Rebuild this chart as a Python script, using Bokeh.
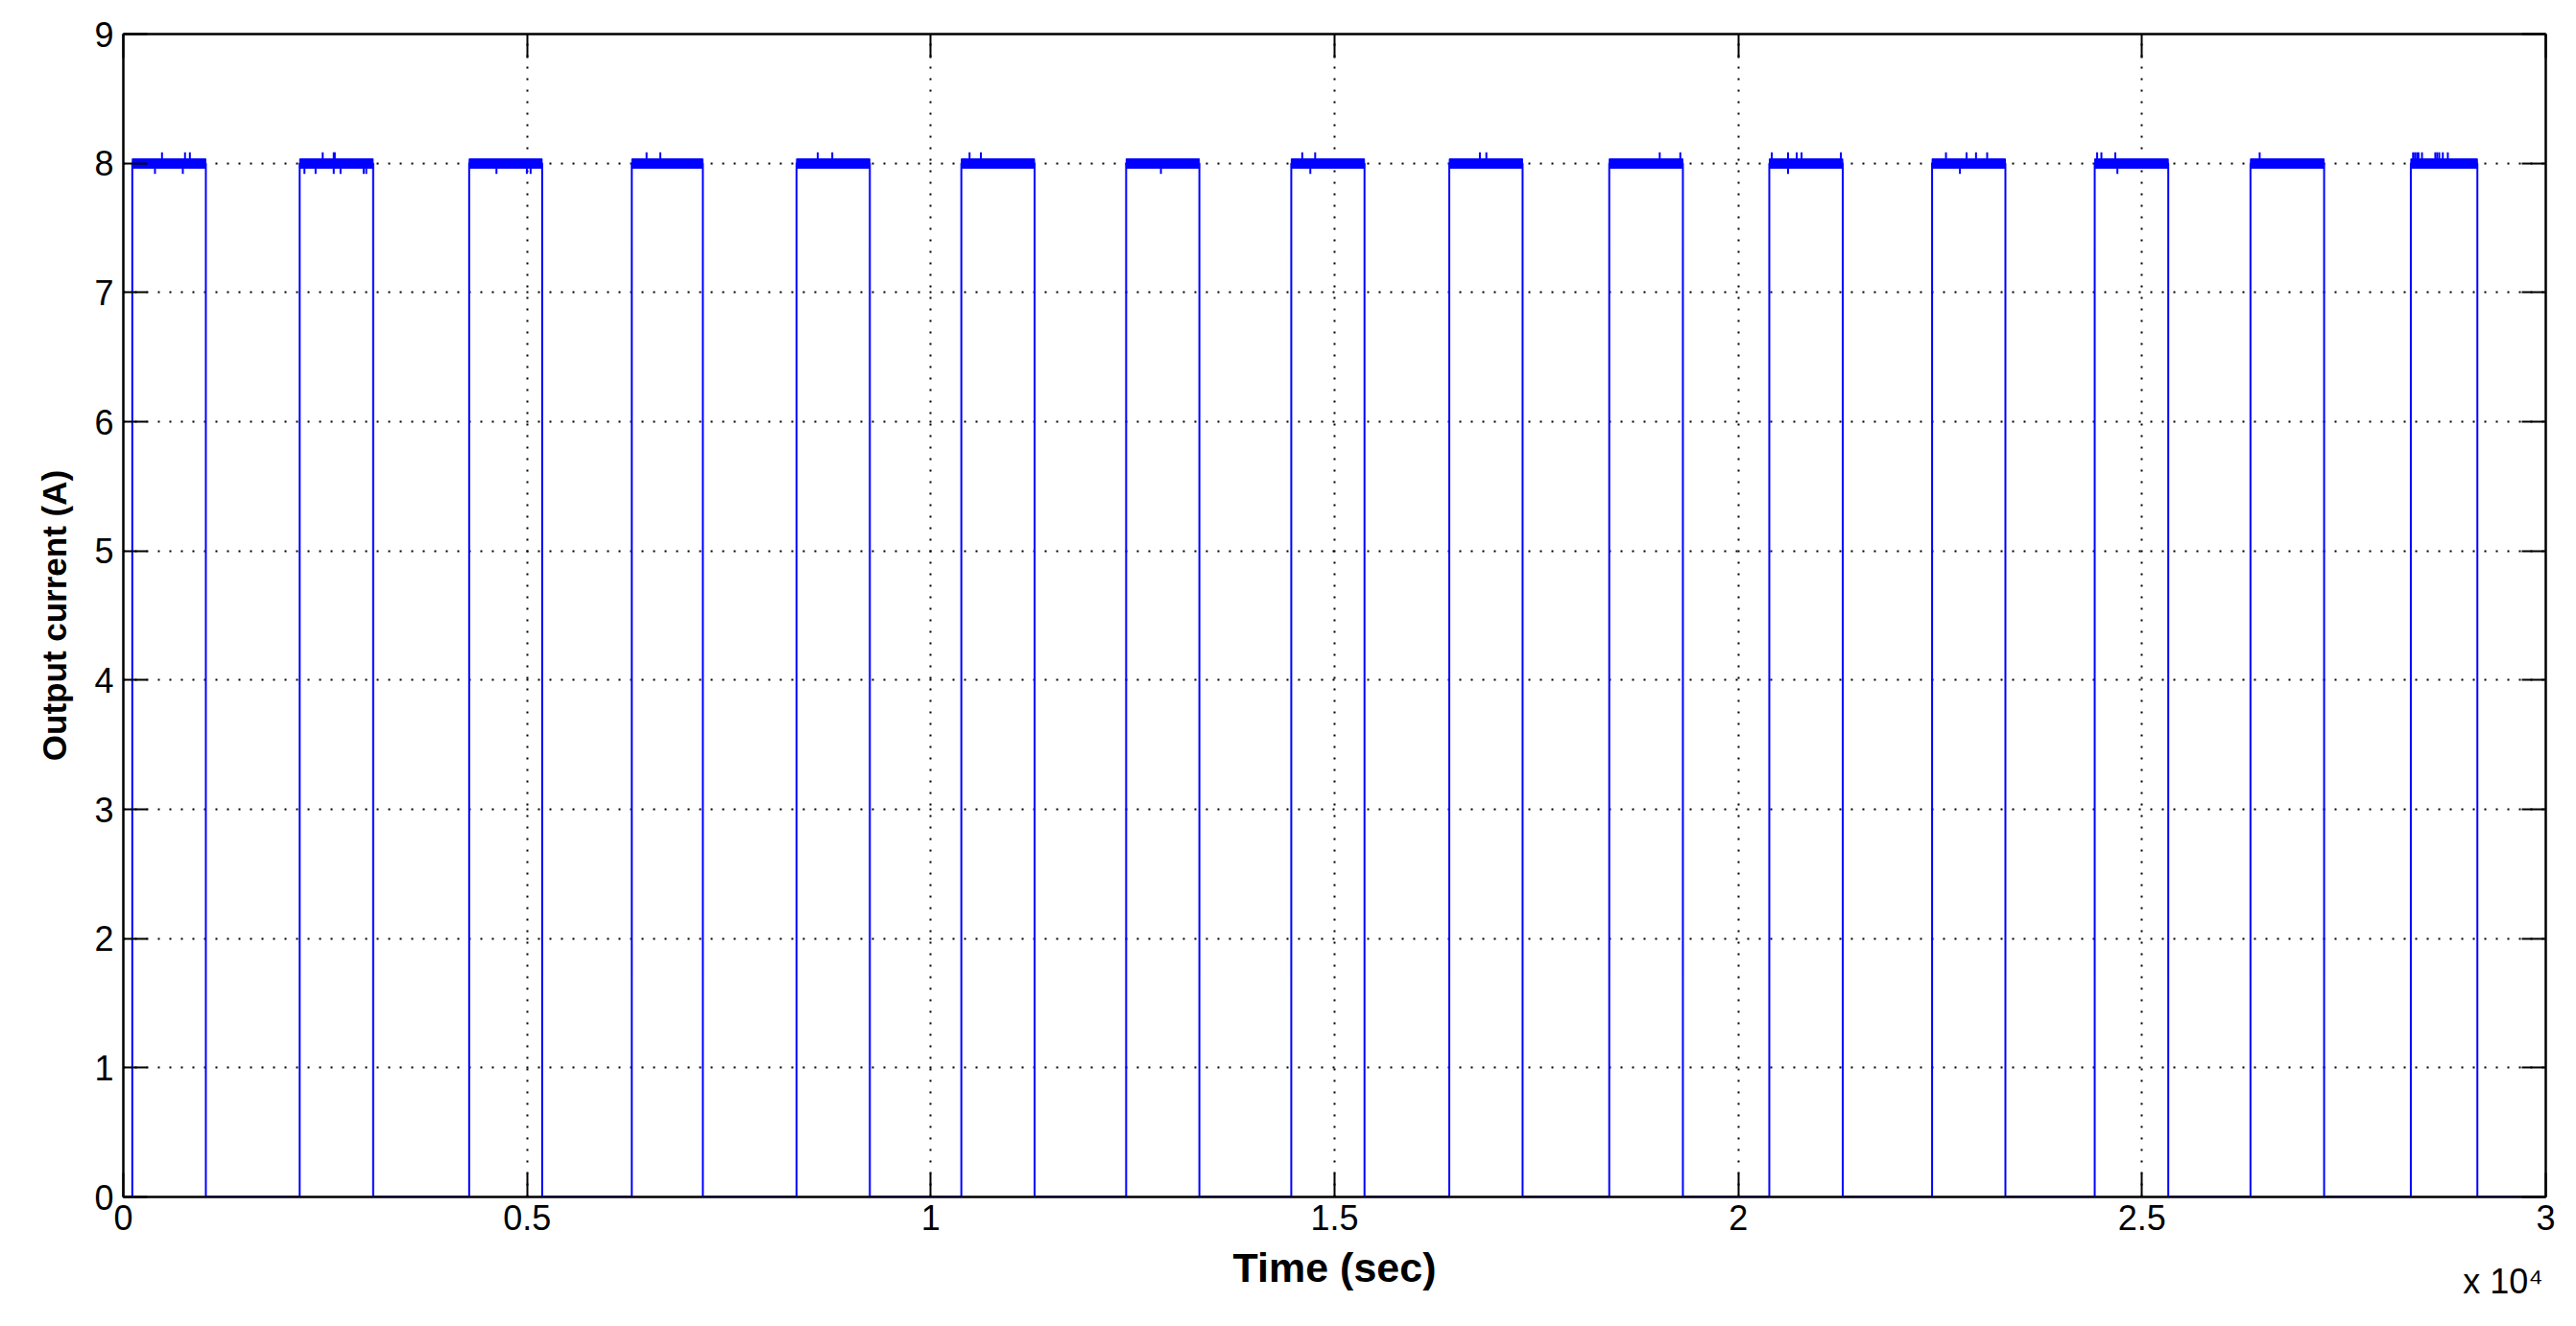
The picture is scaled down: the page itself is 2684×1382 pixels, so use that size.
import numpy as np
from bokeh.plotting import figure
from bokeh.models import Range1d, FixedTicker, LinearAxis
from bokeh.embed import file_html
from bokeh.resources import INLINE

# ---- data (time in seconds, current in A) ----
pulse_start = [111, 2184, 4283, 6297, 8337, 10378, 12419, 14464, 16421, 18402,
               20384, 22400, 24414, 26343, 28329]
pulse_end = [1022, 3094, 5187, 7177, 9245, 11285, 13326, 15371, 17329, 19314,
             21294, 23308, 25325, 27255, 29153]
level_low = 0.0
level_high = 8.0
band_low = 7.962
band_high = 8.034
spike_up_t = [479, 764, 824, 2469, 2606, 2619, 6480, 6650, 8600, 8780,
              10480, 10620, 14600, 14760, 16800, 16880, 19027, 19282,
              20415, 20616, 20724, 20784, 21271, 22572, 22827, 22944, 23082,
              24444, 24497, 24669, 26457, 28357, 28380, 28405, 28424, 28467,
              28632, 28655, 28681, 28725, 28787]
spike_up_v = 8.085
spike_dn_t = [392, 737, 2243, 2381, 2606, 2690, 2976, 3008, 4621, 4997, 5044,
              12850, 14700, 20616, 22745, 24695]
spike_dn_v = 7.918
x_ticks = [0, 5000, 10000, 15000, 20000, 25000, 30000]
x_tick_labels = ["0", "0.5", "1", "1.5", "2", "2.5", "3"]
y_ticks = [0, 1, 2, 3, 4, 5, 6, 7, 8, 9]
x_label = "Time (sec)"
y_label = "Output current (A)"
exponent_label = "x 10\u2074"
exponent_anchor = 29470

# ---- build the step trace from the pulse edges ----
xs = [0.0]
ys = [level_low]
for s, e in zip(pulse_start, pulse_end):
    xs += [s, s, e, e]
    ys += [level_low, level_high, level_high, level_low]
xs.append(30000.0)
ys.append(level_low)

FONT = "Liberation Sans"
BLUE = "#0000FF"

p = figure(width=2668, height=1366, output_backend="svg", toolbar_location=None,
           x_range=Range1d(0, 30000), y_range=Range1d(0, 9),
           min_border_left=128, min_border_right=16, min_border_top=35,
           min_border_bottom=119)
p.background_fill_color = "white"
p.border_fill_color = "white"
p.outline_line_color = "black"
p.outline_line_width = 2

# trace
p.line(xs, ys, line_color=BLUE, line_width=2)
p.quad(left=pulse_start, right=pulse_end,
       bottom=[band_low] * len(pulse_start), top=[band_high] * len(pulse_start),
       fill_color=BLUE, line_color=BLUE, line_width=1)
p.segment(x0=spike_up_t, y0=[band_high] * len(spike_up_t), x1=spike_up_t,
          y1=[spike_up_v] * len(spike_up_t), line_color=BLUE, line_width=2)
p.segment(x0=spike_dn_t, y0=[band_low] * len(spike_dn_t), x1=spike_dn_t,
          y1=[spike_dn_v] * len(spike_dn_t), line_color=BLUE, line_width=2)

# axes
xt = FixedTicker(ticks=x_ticks)
yt = FixedTicker(ticks=y_ticks)
overrides = {t: l for t, l in zip(x_ticks, x_tick_labels)}

for ax in [p.xaxis[0], p.yaxis[0]]:
    ax.axis_line_color = "black"
    ax.axis_line_width = 2
    ax.major_tick_in = 25
    ax.major_tick_out = 0
    ax.major_tick_line_width = 2
    ax.minor_tick_in = 0
    ax.minor_tick_out = 0
    ax.major_label_text_font = FONT
    ax.major_label_text_font_size = "36px"
    ax.major_label_text_color = "black"
    ax.axis_label_text_font = FONT
    ax.axis_label_text_font_style = "bold"
    ax.axis_label_text_color = "black"

p.xaxis[0].ticker = xt
p.xaxis[0].major_label_overrides = overrides
p.xaxis[0].major_label_standoff = 8
p.xaxis[0].axis_label = x_label
p.xaxis[0].axis_label_text_font_size = "43px"
p.xaxis[0].axis_label_standoff = 12
p.yaxis[0].ticker = yt
p.yaxis[0].major_label_standoff = 10
p.yaxis[0].axis_label = y_label
p.yaxis[0].axis_label_text_font_size = "35px"
p.yaxis[0].axis_label_standoff = 19

# mirrored axes (box with inner ticks, no labels)
for loc, tk in [("above", xt), ("right", yt)]:
    ax = LinearAxis(ticker=tk)
    ax.axis_line_color = "black"
    ax.axis_line_width = 2
    ax.major_tick_in = 25
    ax.major_tick_out = 0
    ax.major_tick_line_width = 2
    ax.minor_tick_in = 0
    ax.minor_tick_out = 0
    ax.major_label_text_color = None
    ax.major_label_text_font_size = "0px"
    ax.major_label_standoff = 0
    p.add_layout(ax, loc)

# exponent (x 10^4) shown under the right end of the x axis
exp_axis = LinearAxis(ticker=FixedTicker(ticks=[exponent_anchor]),
                      major_label_overrides={exponent_anchor: exponent_label})
exp_axis.axis_line_color = None
exp_axis.major_tick_line_color = None
exp_axis.minor_tick_line_color = None
exp_axis.major_tick_in = 0
exp_axis.major_tick_out = 0
exp_axis.minor_tick_in = 0
exp_axis.minor_tick_out = 0
exp_axis.major_label_text_font = FONT
exp_axis.major_label_text_font_size = "36px"
exp_axis.major_label_text_color = "black"
exp_axis.major_label_standoff = -33
p.add_layout(exp_axis, "below")

# grid
for g, tk in [(p.xgrid[0], xt), (p.ygrid[0], yt)]:
    g.ticker = tk
    g.grid_line_color = "black"
    g.grid_line_width = 2
    g.grid_line_dash = "2 10"
    g.grid_line_alpha = 1.0

open("out.html", "w").write(file_html(p, INLINE))
